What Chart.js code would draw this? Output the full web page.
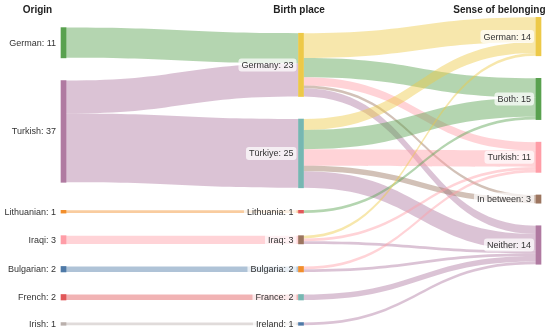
<!DOCTYPE html>
<html>
<head>
<meta charset="utf-8">
<script src="https://cdn.jsdelivr.net/npm/chart.js@4/dist/chart.umd.min.js"></script>
<style>
  html, body { margin: 0; padding: 0; background: #fff; }
  canvas { display: block; }
</style>
</head>
<body>
<canvas id="c" width="550" height="336"></canvas>
<script>
// ---------- DATA ----------
const columnTitles = ['Origin', 'Birth place', 'Sense of belonging'];
const originNodes = ['German', 'Turkish', 'Lithuanian', 'Iraqi', 'Bulgarian', 'French', 'Irish'];
const birthNodes = ['Germany', 'Türkiye', 'Lithuania', 'Iraq', 'Bulgaria', 'France', 'Ireland'];
const belongingNodes = ['German', 'Both', 'Turkish', 'In between', 'Neither'];

// origin -> birth place : [from, to, count]
const originToBirth = [
  ['German', 'Germany', 11],
  ['Turkish', 'Germany', 12],
  ['Turkish', 'Türkiye', 25],
  ['Lithuanian', 'Lithuania', 1],
  ['Iraqi', 'Iraq', 3],
  ['Bulgarian', 'Bulgaria', 2],
  ['French', 'France', 2],
  ['Irish', 'Ireland', 1]
];
// birth place -> sense of belonging : [from, to, count]
const birthToBelonging = [
  ['Germany', 'German', 9],
  ['Germany', 'Both', 7],
  ['Germany', 'Turkish', 3],
  ['Germany', 'In between', 1],
  ['Germany', 'Neither', 3],
  ['Türkiye', 'German', 4],
  ['Türkiye', 'Both', 7],
  ['Türkiye', 'Turkish', 6],
  ['Türkiye', 'In between', 2],
  ['Türkiye', 'Neither', 6],
  ['Lithuania', 'Both', 1],
  ['Iraq', 'German', 1],
  ['Iraq', 'Turkish', 1],
  ['Iraq', 'Neither', 1],
  ['Bulgaria', 'Turkish', 1],
  ['Bulgaria', 'Neither', 1],
  ['France', 'Neither', 2],
  ['Ireland', 'Neither', 1]
];

// ---------- STYLES ----------
const T = { blue:'#4e79a7', orange:'#f28e2b', red:'#e15759', teal:'#76b7b2', green:'#59a14f',
            yellow:'#edc948', purple:'#b07aa1', pink:'#ff9da7', brown:'#9c755f', grey:'#bab0ac' };
const originColors = [T.green, T.purple, T.orange, T.pink, T.blue, T.red, T.grey];
const birthColors = [T.yellow, T.teal, T.red, T.brown, T.orange, T.teal, T.blue];
const belongingColors = [T.yellow, T.green, T.pink, T.brown, T.purple];
const LINK_ALPHA = 0.45;
const NODE_W = 5;

// ---------- LAYOUT (sankey relaxation in value units) ----------
const Y_MAX = 112;      // extent of the value axis
const PAD = 8.2;        // node padding in value units
const ITER = 6;
const ANCHOR_COL = 1;   // middle column stacked against the bottom, others relaxed to it
const SPREAD = [0.5, 0, 1]; // link-spreading factor used when relaxing each column

const columnsDef = [
  { names: originNodes, colors: originColors },
  { names: birthNodes, colors: birthColors },
  { names: belongingNodes, colors: belongingColors }
];
const nodes = [];
const columns = columnsDef.map((cd, ci) => cd.names.map((name, i) => {
  const n = { name, col: ci, index: nodes.length, color: cd.colors[i], sourceLinks: [], targetLinks: [] };
  nodes.push(n);
  return n;
}));
const find = (ci, name) => columns[ci].find(n => n.name === name);
const links = [];
[originToBirth, birthToBelonging].forEach((flows, ci) => {
  flows.forEach(([a, b, v]) => {
    const s = find(ci, a), t = find(ci + 1, b);
    const l = { source: s, target: t, value: v, width: v, index: links.length,
                color: ci === 0 ? s.color : t.color };
    s.sourceLinks.push(l); t.targetLinks.push(l); links.push(l);
  });
});
nodes.forEach(n => {
  const so = n.sourceLinks.reduce((a, l) => a + l.value, 0);
  const ti = n.targetLinks.reduce((a, l) => a + l.value, 0);
  n.value = Math.max(so, ti);
});

const byBreadth = (a, b) => a.y0 - b.y0;
const ascTarget = (a, b) => byBreadth(a.target, b.target) || a.index - b.index;
const ascSource = (a, b) => byBreadth(a.source, b.source) || a.index - b.index;
function reorderLinks(ns) { ns.forEach(n => { n.sourceLinks.sort(ascTarget); n.targetLinks.sort(ascSource); }); }
function targetTop(source, target, s) {
  const p = PAD * s;
  let y = source.y0 - (source.sourceLinks.length - 1) * p / 2;
  for (const l of source.sourceLinks) { if (l.target === target) break; y += l.width + p; }
  for (const l of target.targetLinks) { if (l.source === source) break; y -= l.width; }
  return y;
}
function sourceTop(source, target, s) {
  const p = PAD * s;
  let y = target.y0 - (target.targetLinks.length - 1) * p / 2;
  for (const l of target.targetLinks) { if (l.source === source) break; y += l.width + p; }
  for (const l of source.sourceLinks) { if (l.target === target) break; y -= l.width; }
  return y;
}
function colTopDown(ns, y, i, a) {
  for (; i < ns.length; ++i) { const n = ns[i]; const dy = (y - n.y0) * a; if (dy > 1e-6) { n.y0 += dy; n.y1 += dy; } y = n.y1 + PAD; }
}
function colBottomUp(ns, y, i, a) {
  for (; i >= 0; --i) { const n = ns[i]; const dy = (n.y1 - y) * a; if (dy > 1e-6) { n.y0 -= dy; n.y1 -= dy; } y = n.y0 - PAD; }
}
function resolveCollisions(ns, a) {
  const i = ns.length >> 1, s = ns[i];
  colBottomUp(ns, s.y0 - PAD, i - 1, a);
  colTopDown(ns, s.y1 + PAD, i + 1, a);
  colBottomUp(ns, Y_MAX, ns.length - 1, a);
  colTopDown(ns, 0, 0, a);
}
function relaxColumn(ci, alpha, beta) {
  const s = SPREAD[ci];
  for (const n of columns[ci]) {
    let y = 0, w = 0;
    const ls = ci < ANCHOR_COL ? n.sourceLinks : n.targetLinks;
    for (const l of ls) {
      const v = l.value;
      y += (ci < ANCHOR_COL ? sourceTop(n, l.target, s) : targetTop(l.source, n, s)) * v;
      w += v;
    }
    if (!(w > 0)) continue;
    const dy = (y / w - n.y0) * alpha; n.y0 += dy; n.y1 += dy;
  }
  reorderLinks(nodes);
  resolveCollisions(columns[ci], beta);
}
// anchor column: stacked from the bottom of the extent
{
  let y = Y_MAX;
  for (let i = columns[ANCHOR_COL].length - 1; i >= 0; --i) {
    const n = columns[ANCHOR_COL][i];
    n.y1 = y; n.y0 = y - n.value; y = n.y0 - PAD;
  }
}
// other columns: spread evenly to start
columns.forEach((c, ci) => {
  if (ci === ANCHOR_COL) return;
  let y = 0;
  c.forEach(n => { n.y0 = y; n.y1 = y + n.value; y = n.y1 + PAD; });
  y = (Y_MAX - y + PAD) / (c.length + 1);
  c.forEach((n, i) => { n.y0 += y * (i + 1); n.y1 += y * (i + 1); });
});
reorderLinks(nodes);
for (let i = 0; i < ITER; ++i) {
  const alpha = Math.pow(0.99, i), beta = Math.max(1 - alpha, (i + 1) / ITER);
  columns.forEach((c, ci) => { if (ci !== ANCHOR_COL) relaxColumn(ci, alpha, beta); });
}
reorderLinks(nodes);
nodes.forEach(n => {
  let a = n.y0, b = n.y0;
  n.sourceLinks.forEach(l => { l.sy0 = a; a += l.width; l.sy1 = a; });
  n.targetLinks.forEach(l => { l.ty0 = b; b += l.width; l.ty1 = b; });
});

// ---------- CHART ----------
function rgba(hex, a) {
  const v = parseInt(hex.slice(1), 16);
  return `rgba(${v >> 16},${(v >> 8) & 255},${v & 255},${a})`;
}
const FONT = '"Liberation Sans", Arial, Helvetica, sans-serif';

const sankeyPlugin = {
  id: 'sankeyLinks',
  beforeDatasetsDraw(chart) {
    const { ctx } = chart, xs = chart.scales.x, ys = chart.scales.y;
    ctx.save();
    links.forEach(l => {
      const x0 = xs.getPixelForValue(l.source.col) + NODE_W / 2;
      const x1 = xs.getPixelForValue(l.target.col) - NODE_W / 2;
      const xm = (x0 + x1) / 2;
      const a0 = ys.getPixelForValue(l.sy0), a1 = ys.getPixelForValue(l.sy1);
      const b0 = ys.getPixelForValue(l.ty0), b1 = ys.getPixelForValue(l.ty1);
      ctx.beginPath();
      ctx.moveTo(x0, a0);
      ctx.bezierCurveTo(xm, a0, xm, b0, x1, b0);
      ctx.lineTo(x1, b1);
      ctx.bezierCurveTo(xm, b1, xm, a1, x0, a1);
      ctx.closePath();
      ctx.fillStyle = rgba(l.color, LINK_ALPHA);
      ctx.fill();
    });
    ctx.restore();
  },
  afterDatasetsDraw(chart) {
    const { ctx } = chart, xs = chart.scales.x, ys = chart.scales.y;
    ctx.save();
    ctx.font = '9px ' + FONT;
    ctx.textBaseline = 'middle';
    ctx.textAlign = 'right';
    nodes.forEach(n => {
      const left = xs.getPixelForValue(n.col) - NODE_W / 2;
      const cy = ys.getPixelForValue((n.y0 + n.y1) / 2);
      const txt = n.name + ': ' + n.value;
      const w = ctx.measureText(txt).width;
      const bx = left - 2 - (w + 6);
      ctx.fillStyle = 'rgba(255,255,255,0.72)';
      ctx.beginPath();
      ctx.roundRect(bx, cy - 6.5, w + 6, 13, 3);
      ctx.fill();
      ctx.fillStyle = '#333';
      ctx.fillText(txt, left - 5, cy + 0.5);
    });
    // column titles
    ctx.font = 'bold 10px ' + FONT;
    ctx.fillStyle = '#222';
    const ty = 10;
    ctx.textAlign = 'center';
    ctx.fillText(columnTitles[0], xs.getPixelForValue(0) - 26, ty);
    ctx.fillText(columnTitles[1], xs.getPixelForValue(1) - 2, ty);
    ctx.textAlign = 'right';
    ctx.fillText(columnTitles[2], xs.getPixelForValue(2) + 7, ty);
    ctx.restore();
  }
};

new Chart(document.getElementById('c'), {
  type: 'bar',
  data: {
    datasets: [{
      data: nodes.map(n => ({ x: n.col, y: [n.y0, n.y1] })),
      backgroundColor: nodes.map(n => n.color),
      borderWidth: 0,
      borderSkipped: false,
      barThickness: NODE_W,
      clip: false
    }]
  },
  options: {
    responsive: false,
    animation: false,
    events: [],
    layout: { padding: { left: 63.5, right: 11.5, top: 17.3, bottom: 10.7 } },
    plugins: { legend: { display: false }, tooltip: { enabled: false } },
    scales: {
      x: { type: 'linear', min: 0, max: 2, offset: false, display: false },
      y: { type: 'linear', min: 0, max: Y_MAX, reverse: true, display: false }
    }
  },
  plugins: [sankeyPlugin]
});
</script>
</body>
</html>
